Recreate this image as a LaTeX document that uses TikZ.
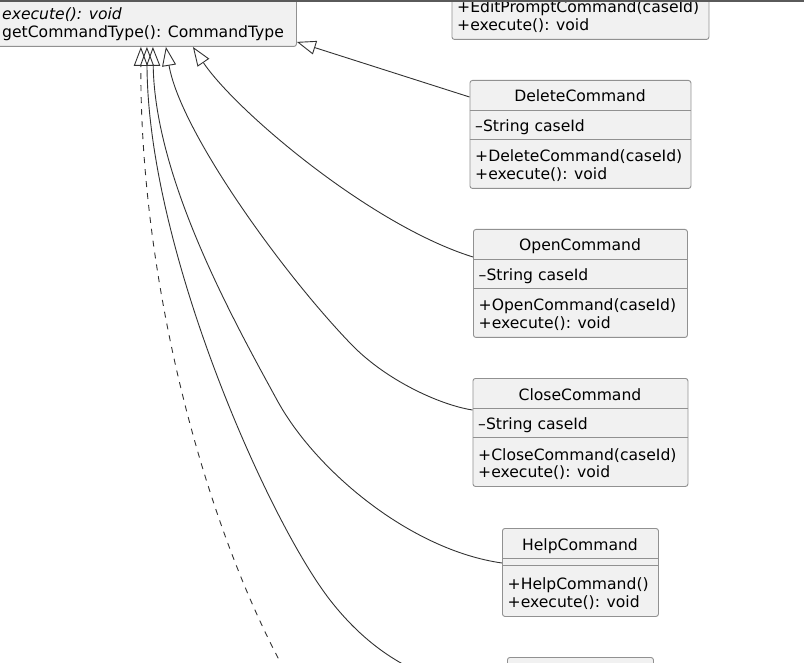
\documentclass[tikz,border=0pt]{standalone}
\usepackage{fontspec}
\setmainfont{DejaVu Sans}
\usetikzlibrary{arrows.meta,positioning}
\definecolor{umlFill}{RGB}{241,241,241}
\definecolor{umlBorder}{RGB}{145,145,145}
\definecolor{umlLine}{RGB}{50,50,50}
\definecolor{topBar}{RGB}{90,90,90}
\newcommand{\umlfont}{\fontsize{15.6}{18}\selectfont}

\begin{document}
\begin{tikzpicture}[x=1pt, y=-1pt,
    classbox/.style={draw=umlBorder, fill=umlFill, rounded corners=2.5pt,
      inner sep=0pt, anchor=north west, line width=0.9pt},
    clsname/.style={font=\umlfont, anchor=base, inner sep=0pt},
    member/.style={font=\umlfont, anchor=base west, inner sep=0pt},
    absmember/.style={member, font=\umlfont\itshape},
    divider/.style={draw=umlBorder, line width=0.9pt},
    extends/.style={draw=umlLine, line width=0.9pt,
      -{Triangle[open, length=19pt, width=14pt]}},
    realizes/.style={extends, dash pattern=on 6pt off 6pt}
  ]
  \useasboundingbox (0,0) rectangle (804,663);
  \clip (0,0) rectangle (804,663);

  % Command (abstract), cut at the top left
  \node[classbox, minimum width=340pt, minimum height=110pt] (command) at (-44,-64) {};
  \node[absmember] (cmdexec) at (2,19.5) {execute(): void};
  \node[member] (cmdtype) at (2,37.5) {getCommandType(): CommandType};

  % EditPromptCommand, cut at the top
  \node[classbox, minimum width=257pt, minimum height=108pt] (editprompt) at (451.5,-69) {};
  \node[member] (editctor) at (457,12.5) {+EditPromptCommand(caseId)};
  \node[member] (editexec) at (457,30.5) {+execute(): void};

  % DeleteCommand
  \node[classbox, minimum width=221pt, minimum height=108pt] (delete) at (469.5,80) {};
  \draw[divider] ([yshift=-30pt]delete.north west) -- ([yshift=-30pt]delete.north east);
  \draw[divider] ([yshift=-59pt]delete.north west) -- ([yshift=-59pt]delete.north east);
  \node[clsname] (deletename) at (580,102) {DeleteCommand};
  \node[member] (deleteattr) at (475,131.5) {--String caseId};
  \node[member] (deletector) at (475,162) {+DeleteCommand(caseId)};
  \node[member] (deleteexec) at (475,179.5) {+execute(): void};

  % OpenCommand
  \node[classbox, minimum width=214pt, minimum height=108pt] (open) at (473,229) {};
  \draw[divider] ([yshift=-30pt]open.north west) -- ([yshift=-30pt]open.north east);
  \draw[divider] ([yshift=-59pt]open.north west) -- ([yshift=-59pt]open.north east);
  \node[clsname] (openname) at (580,251) {OpenCommand};
  \node[member] (openattr) at (478.5,280.5) {--String caseId};
  \node[member] (openctor) at (478.5,311) {+OpenCommand(caseId)};
  \node[member] (openexec) at (478.5,328.5) {+execute(): void};

  % CloseCommand
  \node[classbox, minimum width=215pt, minimum height=108pt] (close) at (472.5,378) {};
  \draw[divider] ([yshift=-30pt]close.north west) -- ([yshift=-30pt]close.north east);
  \draw[divider] ([yshift=-59pt]close.north west) -- ([yshift=-59pt]close.north east);
  \node[clsname] (closename) at (580,400) {CloseCommand};
  \node[member] (closeattr) at (478,429.5) {--String caseId};
  \node[member] (closector) at (478,460) {+CloseCommand(caseId)};
  \node[member] (closeexec) at (478,477.5) {+execute(): void};

  % HelpCommand
  \node[classbox, minimum width=156pt, minimum height=88pt] (help) at (502,528) {};
  \draw[divider] ([yshift=-30pt]help.north west) -- ([yshift=-30pt]help.north east);
  \draw[divider] ([yshift=-37pt]help.north west) -- ([yshift=-37pt]help.north east);
  \node[clsname] (helpname) at (580,550) {HelpCommand};
  \node[member] (helpctor) at (507.5,589.5) {+HelpCommand()};
  \node[member] (helpexec) at (507.5,607) {+execute(): void};

  % next class, cut at the bottom
  \node[classbox, minimum width=146pt, minimum height=88pt] (nextcmd) at (507,657) {};
  \coordinate (dashend) at (302,700);

  % Generalizations
  \draw[extends] ([yshift=-17pt]delete.north west) -- ([yshift=5pt]command.south east);
  \draw[extends] ([yshift=-28pt]open.north west)
    .. controls (370,225) and (235,110) .. ([xshift=-104pt]command.south east);
  \draw[extends] ([yshift=-32pt]close.north west)
    .. controls (440,405) and (385,380) .. (350,343)
    .. controls (280,270) and (180,130) .. ([xshift=-131pt]command.south east);
  \draw[extends] ([yshift=-35pt]help.north west)
    .. controls (410,550) and (315,470) .. (277,400)
    .. controls (235,323) and (155,180) .. ([xshift=-144pt]command.south east);
  \draw[extends] ([yshift=-33pt]nextcmd.north west)
    .. controls (420,690) and (365,645) .. (330,600)
    .. controls (268,520) and (148,250) .. ([xshift=-150pt]command.south east);
  \draw[realizes] (dashend)
    .. controls (215,560) and (140,300) .. ([xshift=-156pt]command.south east);

  \fill[topBar] (0,0) rectangle (804,2.5);
\end{tikzpicture}
\end{document}
